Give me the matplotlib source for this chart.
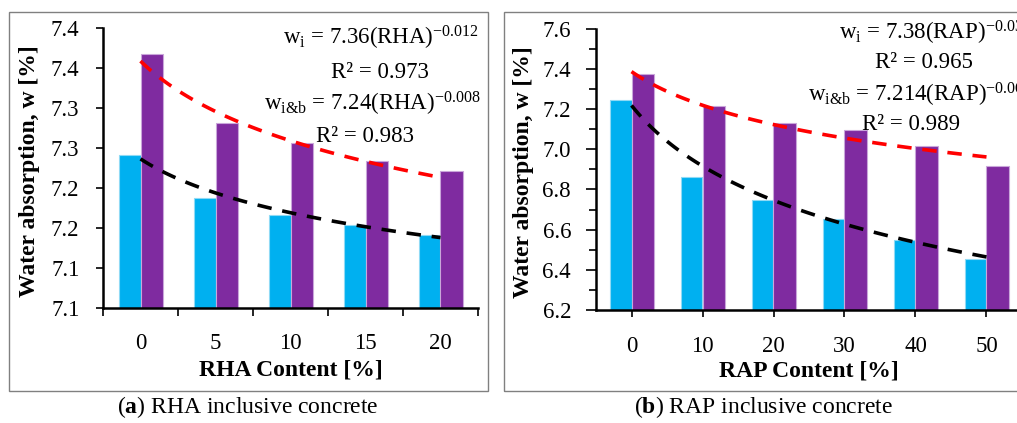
import numpy as np
import matplotlib
matplotlib.use("Agg")
import matplotlib.pyplot as plt
from matplotlib.patches import Rectangle
from matplotlib.ticker import MultipleLocator

plt.rcParams['font.family'] = ['Liberation Serif', 'DejaVu Serif']
plt.rcParams['mathtext.fontset'] = 'custom'
plt.rcParams['mathtext.rm'] = 'Liberation Serif'
plt.rcParams['mathtext.it'] = 'Liberation Serif'
plt.rcParams['mathtext.bf'] = 'Liberation Serif:bold'
plt.rcParams['mathtext.default'] = 'regular'

# ========== data ==========
rha_content = ["0", "5", "10", "15", "20"]
rha_wi = [7.291, 7.237, 7.216, 7.204, 7.191]      # blue bars
rha_wib = [7.418, 7.331, 7.306, 7.284, 7.271]     # purple bars
rha_yticks = [7.10, 7.15, 7.20, 7.25, 7.30, 7.35, 7.40, 7.45]
rha_ylabels = ["7.1", "7.1", "7.2", "7.2", "7.3", "7.3", "7.4", "7.4"]

rap_content = ["0", "10", "20", "30", "40", "50"]
rap_wi = [7.245, 6.862, 6.747, 6.653, 6.548, 6.454]
rap_wib = [7.375, 7.215, 7.131, 7.096, 7.016, 6.917]

BLUE = "#00B0F0"
PURPLE = "#7F2BA0"
W, H = 1017, 423
TICK_FS = 16.5
LABEL_FS = 17


def power_trend(vals):
    # Excel-style power trendline, x = 1..n
    x = np.arange(1, len(vals) + 1)
    b, a = np.polyfit(np.log(x), np.log(vals), 1)
    xs = np.linspace(1, len(vals), 100)
    return xs - 1, np.exp(a) * xs ** b


def draw_panel(ax, cats, wi, wib, bw=0.29):
    pos = np.arange(len(cats))
    ax.bar(pos - bw / 2, wi, width=bw, color=BLUE, edgecolor="#8FDAF5", linewidth=0.8, zorder=2)
    ax.bar(pos + bw / 2 + 0.005, wib, width=bw + 0.01, color=PURPLE, edgecolor="#C9A6DA", linewidth=0.8, zorder=2)
    xs, ys = power_trend(wib)
    ax.plot(xs, ys, color="#FF0000", lw=2.6, ls=(0, (4, 3)), zorder=3)
    xs, ys = power_trend(wi)
    ax.plot(xs, ys, color="black", lw=2.6, ls=(0, (4, 3)), zorder=3)
    ax.set_xlim(-0.5, len(cats) - 0.5)
    for s in ["top", "right"]:
        ax.spines[s].set_visible(False)
    for s in ["left", "bottom"]:
        ax.spines[s].set_linewidth(1.8)
    ax.tick_params(axis="y", labelsize=TICK_FS, width=1.2, length=5)
    ax.set_ylabel("Water absorption, w [%]", fontsize=LABEL_FS, fontweight="bold")


fig = plt.figure(figsize=(W / 100, H / 100), dpi=100)

# panel frames
for x0, x1 in [(9, 488), (504, 1030)]:
    fig.patches.append(Rectangle((x0 / W, 1 - 391 / H), (x1 - x0) / W, 379 / H,
                                 transform=fig.transFigure, fill=False,
                                 edgecolor="#808080", lw=1.0, zorder=0))

# ---- (a) RHA ----
ax1 = fig.add_axes([103 / W, 1 - 308 / H, 375 / W, 280 / H])
draw_panel(ax1, rha_content, rha_wi, rha_wib)
ax1.set_ylim(7.10, 7.45)
ax1.set_yticks(rha_yticks)
ax1.set_yticklabels(rha_ylabels)
ax1.tick_params(axis="y", pad=12)
ax1.set_xticks(np.arange(len(rha_content)))
ax1.set_xticklabels(rha_content)
ax1.set_xticks(np.arange(len(rha_content) + 1) - 0.5, minor=True)
ax1.tick_params(axis="x", which="major", length=0, labelsize=TICK_FS, pad=18)
ax1.tick_params(axis="x", which="minor", length=6, width=1.2)
ax1.set_xlabel("RHA Content [%]", fontsize=LABEL_FS, fontweight="bold")
ax1.xaxis.set_label_coords(0.5, -0.185)
ax1.yaxis.set_label_coords(-0.168, 0.49)

# ---- (b) RAP ----
ax2 = fig.add_axes([596 / W, 1 - 310 / H, 426 / W, 281.3 / H])
draw_panel(ax2, rap_content, rap_wi, rap_wib, bw=0.3)
ax2.set_ylim(6.2, 7.6)
ax2.yaxis.set_major_locator(MultipleLocator(0.2))
ax2.yaxis.set_minor_locator(MultipleLocator(0.1))
ax2.yaxis.set_major_formatter(matplotlib.ticker.FormatStrFormatter("%.1f"))
ax2.tick_params(axis="y", which="major", pad=11, length=7)
ax2.tick_params(axis="y", which="minor", length=5, width=1.2)
ax2.set_xticks(np.arange(len(rap_content)))
ax2.set_xticklabels(rap_content)
ax2.tick_params(axis="x", which="major", length=5, width=1.2, labelsize=TICK_FS, pad=14)
ax2.set_xlabel("RAP Content [%]", fontsize=LABEL_FS, fontweight="bold")
ax2.xaxis.set_label_coords(0.5, -0.18)
ax2.yaxis.set_label_coords(-0.146, 0.49)

# equations
eq_fs = 16.5
notes = [
    (381, 38, r"w$_{i}$ = 7.36(RHA)$^{-0.012}$"),
    (380, 72, "R² = 0.973"),
    (372, 104, r"w$_{i&b}$ = 7.24(RHA)$^{-0.008}$"),
    (365, 136, "R² = 0.983"),
    (935, 33, r"w$_{i}$ = 7.38(RAP)$^{-0.033}$"),
    (924, 63, "R² = 0.965"),
    (920, 95, r"w$_{i&b}$ = 7.214(RAP)$^{-0.062}$"),
    (911, 125, "R² = 0.989"),
]
for x, y, t in notes:
    fig.text(x / W, 1 - y / H, t, fontsize=eq_fs, ha="center", va="center")

# captions
fig.text(248 / W, 1 - 407 / H, r"($\mathbf{a}$) RHA inclusive concrete", fontsize=17, ha="center", va="center")
fig.text(763 / W, 1 - 407 / H, r"($\mathbf{b}$) RAP inclusive concrete", fontsize=17, ha="center", va="center")

fig.savefig("out.png", dpi=100)
